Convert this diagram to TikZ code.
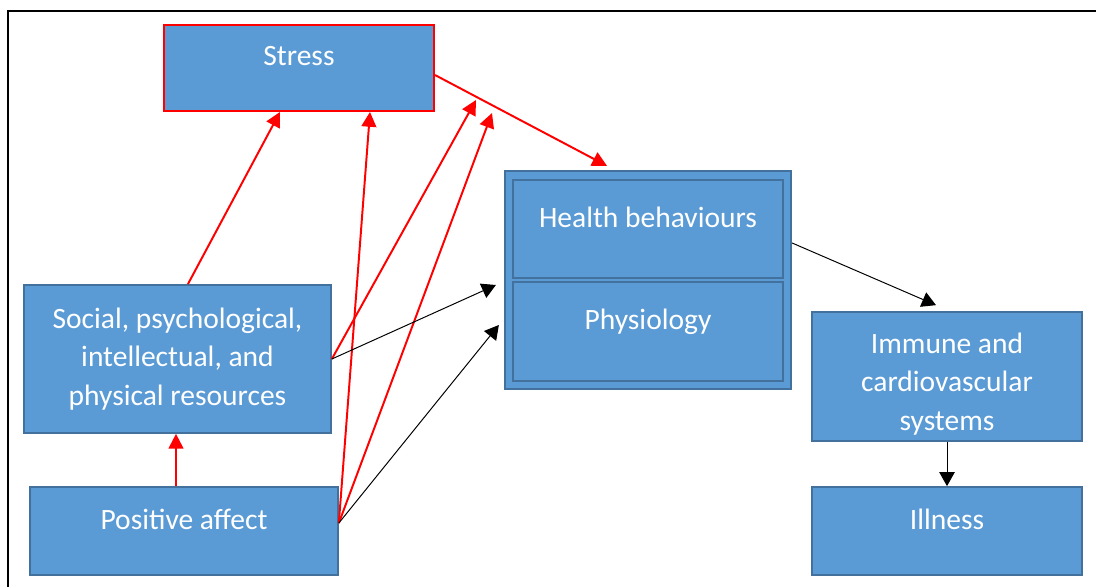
\documentclass[tikz,border=0pt]{standalone}
\usepackage{fontspec}
\setmainfont{Carlito}
\usepackage{xcolor}
\usetikzlibrary{arrows.meta, positioning, calc}
\definecolor{boxblue}{HTML}{5B9BD5}
\definecolor{boxedge}{HTML}{41719C}

\begin{document}
\begin{tikzpicture}[
  box/.style={
    draw=boxedge, fill=boxblue, line width=1.2pt,
    align=center, text=white, inner sep=2pt,
    font=\fontsize{21}{27.4}\selectfont
  },
  oneline/.style={text height=0.5cm, text depth=0.6cm},
  redarrow/.style={-{Triangle[length=10.5pt, width=10.5pt]}, red, line width=1.4pt},
  blackarrow/.style={-{Triangle[length=10pt, width=11pt]}, black, line width=0.7pt}
]
\useasboundingbox (0,0) rectangle (27.4,14.65);

% ---- Frame (top and left edges) ----
\draw[line width=2pt] (0.2,-0.5) -- (0.2,14.375) -- (28,14.375);

% ---- Stress ----
\node[box, oneline, draw=red, line width=1.4pt,
      minimum width=6.75cm, minimum height=2.15cm] (stress)
  at (7.475,12.95) {Stress};

% ---- Resources ----
\node[box, minimum width=7.675cm, minimum height=3.7cm] (resources)
  at (4.4375,5.675) {Social, psychological,\\intellectual, and\\physical resources};

% ---- Positive affect ----
\node[box, oneline, minimum width=7.7cm, minimum height=2.2cm] (affect)
  at (4.6,1.375) {Positive affect};

% ---- Health behaviours / Physiology ----
\node[box, line width=1.6pt, minimum width=7.15cm, minimum height=5.45cm] (pathways)
  at (16.2,7.65) {};
\node[box, oneline, minimum width=6.75cm, minimum height=2.45cm] (behaviours)
  at (16.2,8.925) {Health behaviours};
\node[box, oneline, minimum width=6.75cm, minimum height=2.475cm] (physiology)
  at (16.2,6.3625) {Physiology};

% ---- Immune and cardiovascular systems ----
\node[box, text height=2.8cm, minimum width=6.75cm, minimum height=3.225cm] (immune)
  at (23.675,5.2375) {Immune and\\cardiovascular\\systems};

% ---- Illness ----
\node[box, oneline, minimum width=6.75cm, minimum height=2.2cm] (illness)
  at (23.675,1.375) {Illness};

% ---- Points on the stress path ----
\coordinate (mod1) at (11.9,12.15);
\coordinate (mod2) at (12.3,11.825);

% ---- Red arrows ----
\draw[redarrow] ([xshift=0.26cm]resources.north) -- ([xshift=-0.475cm]stress.south);
\draw[redarrow] ([xshift=-0.2cm]affect.north) -- ([xshift=-0.2cm]affect.north |- resources.south);
\draw[redarrow] ([yshift=0.2cm]affect.east) -- ([xshift=1.775cm]stress.south);
\draw[redarrow] ([yshift=0.2cm]affect.east) -- (mod2);
\draw[redarrow] (resources.east) -- (mod1);
\draw[redarrow] ([yshift=-0.175cm]stress.east) -- ([xshift=-1.025cm, yshift=0.1cm]pathways.north);

% ---- Black arrows ----
\draw[blackarrow] (resources.east) -- ([xshift=-0.2cm, yshift=-0.125cm]pathways.west);
\draw[blackarrow] ([yshift=0.2cm]affect.east) -- ([xshift=-0.125cm, yshift=-1.125cm]pathways.west);
\draw[blackarrow] ([yshift=0.925cm]pathways.east) -- ([xshift=-0.275cm, yshift=0.15cm]immune.north);
\draw[blackarrow] (immune.south) -- (illness.north);

\end{tikzpicture}
\end{document}
